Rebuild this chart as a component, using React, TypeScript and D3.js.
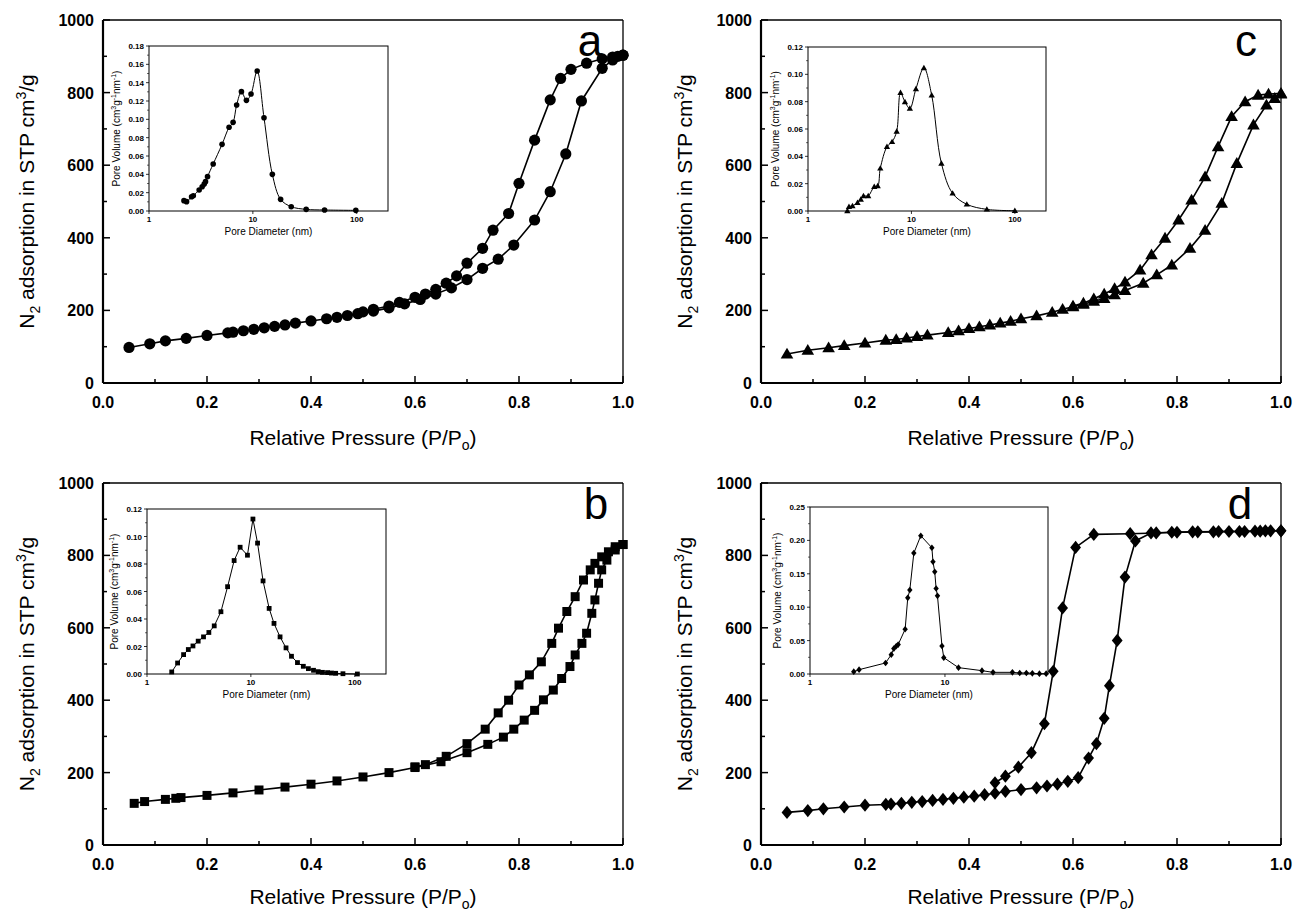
import React from 'react';
import * as d3 from 'd3';

type Pt = [number, number];

// N2 isotherms, [P/Po, volume cm3/g]
const adsA: Pt[] = [
  [0.05, 98], [0.09, 108], [0.12, 116], [0.16, 123], [0.2, 131], [0.24, 138], [0.25, 140],
  [0.27, 144], [0.29, 148], [0.31, 152], [0.33, 156], [0.35, 160], [0.37, 165], [0.4, 171],
  [0.43, 177], [0.45, 181], [0.47, 186], [0.49, 191], [0.52, 198], [0.55, 207], [0.58, 218],
  [0.61, 230], [0.64, 245], [0.67, 262], [0.7, 285], [0.73, 316], [0.76, 341], [0.79, 380],
  [0.83, 449], [0.86, 527], [0.89, 631], [0.92, 777], [0.96, 867], [0.98, 890], [0.99, 900], [1.0, 903],
];
const desA: Pt[] = [
  [1.0, 903], [0.98, 898], [0.96, 893], [0.93, 881], [0.9, 864], [0.88, 839], [0.86, 780],
  [0.83, 669], [0.8, 550], [0.78, 467], [0.75, 421], [0.73, 371], [0.7, 330], [0.68, 295],
  [0.66, 275], [0.64, 258], [0.62, 245], [0.6, 236], [0.57, 222], [0.55, 212], [0.52, 203], [0.5, 196],
];
const adsB: Pt[] = [
  [0.06, 115], [0.08, 120], [0.12, 126], [0.14, 129], [0.15, 131], [0.2, 137], [0.25, 144],
  [0.3, 152], [0.35, 160], [0.4, 168], [0.45, 177], [0.5, 188], [0.55, 200], [0.6, 214],
  [0.65, 230], [0.7, 255], [0.74, 278], [0.77, 298], [0.79, 320], [0.81, 345], [0.83, 372],
  [0.847, 401], [0.866, 428], [0.882, 460], [0.898, 493], [0.908, 525], [0.921, 557], [0.93, 585],
  [0.94, 640], [0.946, 677], [0.953, 723], [0.959, 760], [0.969, 787], [0.985, 815], [1.0, 830],
];
const desB: Pt[] = [
  [1.0, 830], [0.985, 824], [0.972, 810], [0.959, 796], [0.946, 778], [0.937, 760], [0.924, 732],
  [0.908, 686], [0.892, 645], [0.876, 599], [0.863, 557], [0.843, 506], [0.82, 470], [0.8, 442],
  [0.78, 400], [0.76, 365], [0.735, 320], [0.7, 280], [0.66, 245], [0.62, 222], [0.6, 216],
];
const adsC: Pt[] = [
  [0.05, 80], [0.09, 90], [0.13, 97], [0.16, 103], [0.2, 110], [0.24, 118], [0.26, 120],
  [0.28, 124], [0.3, 128], [0.32, 132], [0.36, 139], [0.38, 144], [0.4, 150], [0.42, 155],
  [0.44, 160], [0.46, 165], [0.48, 170], [0.5, 177], [0.53, 185], [0.56, 195], [0.58, 203],
  [0.6, 210], [0.62, 217], [0.64, 225], [0.66, 233], [0.68, 243], [0.7, 255], [0.735, 275],
  [0.761, 298], [0.79, 325], [0.825, 371], [0.854, 421], [0.886, 495], [0.915, 605],
  [0.947, 711], [0.972, 766], [0.988, 784], [1.0, 796],
];
const desC: Pt[] = [
  [1.0, 798], [0.976, 796], [0.956, 793], [0.931, 775], [0.905, 734], [0.879, 651], [0.854, 568],
  [0.828, 504], [0.803, 449], [0.777, 399], [0.751, 353], [0.729, 311], [0.7, 278], [0.68, 260],
  [0.66, 245], [0.64, 232], [0.62, 220], [0.6, 212],
];
const adsD: Pt[] = [
  [0.05, 90], [0.09, 95], [0.12, 100], [0.16, 105], [0.2, 110], [0.24, 112], [0.25, 113],
  [0.27, 115], [0.29, 118], [0.31, 120], [0.33, 123], [0.35, 126], [0.37, 129], [0.39, 132],
  [0.41, 135], [0.43, 139], [0.45, 143], [0.47, 148], [0.5, 153], [0.53, 158], [0.55, 163],
  [0.57, 168], [0.59, 176], [0.61, 186], [0.63, 240], [0.645, 280], [0.66, 350], [0.67, 440],
  [0.685, 565], [0.7, 740], [0.72, 840], [0.75, 862], [0.79, 864], [0.83, 865], [0.87, 865],
  [0.9, 866], [0.93, 866], [0.96, 867], [0.98, 868], [1.0, 868],
];
const desD: Pt[] = [
  [1.0, 868], [0.97, 868], [0.95, 867], [0.92, 866], [0.88, 866], [0.84, 865], [0.8, 864],
  [0.76, 862], [0.71, 860], [0.64, 858], [0.605, 822], [0.58, 655], [0.562, 480], [0.545, 335],
  [0.52, 255], [0.495, 215], [0.47, 190], [0.45, 172],
];

// pore size distributions, [diameter nm, volume]
const poreA: Pt[] = [
  [2.17, 0.0113], [2.3, 0.0102], [2.57, 0.0156], [2.67, 0.0167], [3.04, 0.0229], [3.25, 0.0265],
  [3.4, 0.0295], [3.5, 0.032], [3.66, 0.0375], [4.15, 0.0513], [5.05, 0.0727], [5.9, 0.0913],
  [6.45, 0.0967], [6.98, 0.1156], [7.76, 0.1302], [8.67, 0.1207], [9.6, 0.1276], [11.0, 0.1527],
  [12.8, 0.1018], [15.4, 0.04], [18.5, 0.0127], [23.4, 0.0047], [32.6, 0.0018], [49, 0.0011], [98, 0.0007],
];
const poreB: Pt[] = [
  [1.73, 0.0015], [1.97, 0.008], [2.25, 0.0141], [2.5, 0.0178], [2.77, 0.0204], [3.11, 0.0239],
  [3.5, 0.027], [3.94, 0.0302], [4.44, 0.035], [5.15, 0.0453], [5.97, 0.0635], [6.9, 0.0825],
  [7.88, 0.0922], [9.27, 0.0864], [10.47, 0.1127], [11.6, 0.0952], [13.1, 0.0677], [15.0, 0.0477],
  [16.7, 0.0368], [19.1, 0.027], [21.8, 0.019], [24.6, 0.0129], [28.1, 0.0083], [32.0, 0.0056],
  [35.8, 0.0039], [40.1, 0.0027], [44.5, 0.0017], [48.9, 0.0012], [54.7, 0.001], [59.6, 0.0007],
  [65.5, 0.0005], [77, 0.0002], [106, 0.0],
];
const poreC: Pt[] = [
  [2.4, 0.0], [2.49, 0.0032], [2.69, 0.0037], [3.01, 0.0061], [3.24, 0.0085], [3.44, 0.011],
  [3.82, 0.011], [4.37, 0.0178], [4.72, 0.0183], [5.0, 0.0312], [5.8, 0.047], [6.5, 0.0506],
  [7.2, 0.0582], [7.84, 0.0866], [8.66, 0.0798], [9.66, 0.075], [11.05, 0.0893], [13.2, 0.1047],
  [15.7, 0.0847], [19.5, 0.0348], [25, 0.0129], [34.3, 0.0049], [53.6, 0.0012], [100, 0.0002],
];
const poreD: Pt[] = [
  [2.11, 0.0035], [2.31, 0.0065], [3.63, 0.0165], [4.0, 0.029], [4.18, 0.038], [4.35, 0.0416],
  [4.5, 0.044], [5.07, 0.067], [5.3, 0.114], [5.49, 0.1258], [5.88, 0.181], [6.62, 0.207],
  [8.0, 0.189], [8.15, 0.168], [8.4, 0.153], [8.6, 0.128], [8.8, 0.117], [9.5, 0.042],
  [9.8, 0.0245], [12.6, 0.0095], [18.8, 0.005], [22.7, 0.0025], [31.6, 0.0025], [35.8, 0.0015],
  [40.1, 0.0015], [44.4, 0.001], [50.1, 0.0005], [56.2, 0.0005],
];

const poreTicksX = [1, 10, 100];
const FONT = "'Liberation Sans', Arial, sans-serif";

type Kind = 'circle' | 'square' | 'triangle' | 'diamond';

function marker(kind: Kind, s: number) {
  // s = half size
  if (kind === 'circle') return d3.symbol(d3.symbolCircle, Math.PI * s * s)() as string;
  if (kind === 'square') return `M${-s},${-s}H${s}V${s}H${-s}Z`;
  if (kind === 'triangle') return `M0,${-s * 1.05}L${s * 1.05},${s * 0.75}L${-s * 1.05},${s * 0.75}Z`;
  return `M0,${-s * 1.1}L${s * 0.9},0L0,${s * 1.1}L${-s * 0.9},0Z`;
}

type Box = { l: number; r: number; t: number; b: number };

function Inset({ box, data, kind, ms, xMax, yMax, step, curve }: {
  box: Box; data: Pt[]; kind: Kind; ms: number; xMax: number; yMax: number; step: number; curve: boolean;
}) {
  const x = d3.scaleLog().domain([1, xMax]).range([box.l, box.r]);
  const y = d3.scaleLinear().domain([0, yMax]).range([box.b, box.t]);
  const line = d3.line<Pt>().x(d => x(d[0])).y(d => y(d[1]))
    .curve(curve ? d3.curveCatmullRom.alpha(0.5) : d3.curveLinear);
  const yTicks = d3.range(0, yMax + step / 2, step);
  const yMinor = d3.range(step / 2, yMax, step);
  const my = (box.t + box.b) / 2;
  return (
    <g>
      <rect x={box.l} y={box.t} width={box.r - box.l} height={box.b - box.t} fill="white" stroke="black" strokeWidth={1} />
      {yTicks.map(v => (
        <g key={'y' + v}>
          <line x1={box.l - 3} x2={box.l} y1={y(v)} y2={y(v)} stroke="black" strokeWidth={0.8} />
          <text x={box.l - 5} y={y(v) + 3} textAnchor="end" fontSize={8} fontWeight="bold" fontFamily={FONT}>
            {v.toFixed(2)}
          </text>
        </g>
      ))}
      {yMinor.map(v => (
        <line key={'m' + v} x1={box.l - 2} x2={box.l} y1={y(v)} y2={y(v)} stroke="black" strokeWidth={0.6} />
      ))}
      {poreTicksX.filter(v => v <= xMax).map(v => (
        <g key={'x' + v}>
          <line x1={x(v)} x2={x(v)} y1={box.b} y2={box.b + 3} stroke="black" strokeWidth={0.8} />
          <text x={x(v)} y={box.b + 11} textAnchor="middle" fontSize={8} fontWeight="bold" fontFamily={FONT}>{v}</text>
        </g>
      ))}
      <text x={(box.l + box.r) / 2} y={box.b + 24} textAnchor="middle" fontSize={10} fontFamily={FONT}>Pore Diameter (nm)</text>
      <text transform={`translate(${box.l - 29},${my}) rotate(-90)`} textAnchor="middle" fontSize={10} fontFamily={FONT}>
        Pore Volume (cm<tspan dy={-4} fontSize={7}>3</tspan><tspan dy={4}>g</tspan>
        <tspan dy={-4} fontSize={7}>-1</tspan><tspan dy={4}>nm</tspan>
        <tspan dy={-4} fontSize={7}>-1</tspan><tspan dy={4}>)</tspan>
      </text>
      <path d={line(data) as string} fill="none" stroke="black" strokeWidth={1} />
      {data.map((d, i) => (
        <path key={i} d={marker(kind, ms)} transform={`translate(${x(d[0])},${y(d[1])})`} fill="black" />
      ))}
    </g>
  );
}

function Panel({ box, ads, des, kind, ms, letter, letterX, inset }: {
  box: Box; ads: Pt[]; des: Pt[]; kind: Kind; ms: number; letter: string; letterX: number; inset: React.ReactNode;
}) {
  const x = d3.scaleLinear().domain([0, 1]).range([box.l, box.r]);
  const y = d3.scaleLinear().domain([0, 1000]).range([box.b, box.t]);
  const line = d3.line<Pt>().x(d => x(d[0])).y(d => y(d[1]));
  const xt = x.ticks(10);
  const yt = y.ticks(10);
  const fmt = d3.format('.1f');
  return (
    <g>
      <line x1={box.l} x2={box.r} y1={box.t} y2={box.t} stroke="black" strokeWidth={1.3} />
      <line x1={box.r} x2={box.r} y1={box.t} y2={box.b} stroke="black" strokeWidth={1.3} />
      {xt.map((v, i) => (
        <g key={'x' + i}>
          <line x1={x(v)} x2={x(v)} y1={box.b} y2={box.b - (i % 2 === 0 ? 7 : 4)} stroke="black" strokeWidth={1.5} />
          {i % 2 === 0 && (
            <text x={x(v)} y={box.b + 25} textAnchor="middle" fontSize={16} fontWeight="bold" fontFamily={FONT}>{fmt(v)}</text>
          )}
        </g>
      ))}
      {yt.map((v, i) => (
        <g key={'y' + i}>
          <line x1={box.l} x2={box.l + (i % 2 === 0 ? 7 : 4)} y1={y(v)} y2={y(v)} stroke="black" strokeWidth={1.5} />
          {i % 2 === 0 && (
            <text x={box.l - 9} y={y(v) + 6} textAnchor="end" fontSize={16} fontWeight="bold" fontFamily={FONT}>{v}</text>
          )}
        </g>
      ))}
      <line x1={box.l} x2={box.r} y1={box.b} y2={box.b} stroke="black" strokeWidth={2.2} />
      <line x1={box.l} x2={box.l} y1={box.t} y2={box.b} stroke="black" strokeWidth={2.2} />
      <text x={(box.l + box.r) / 2} y={Math.min(box.b + 62, 904)} textAnchor="middle" fontSize={21} fontFamily={FONT}>
        Relative Pressure (P/P<tspan dy={5} fontSize={14}>o</tspan><tspan dy={-5}>)</tspan>
      </text>
      <text transform={`translate(${box.l - 69},${(box.t + box.b) / 2}) rotate(-90)`} textAnchor="middle" fontSize={21} fontFamily={FONT}>
        N<tspan dy={6} fontSize={14}>2</tspan><tspan dy={-6}> adsorption in STP cm</tspan>
        <tspan dy={-8} fontSize={14}>3</tspan><tspan dy={8}>/g</tspan>
      </text>
      {inset}
      <text x={letterX} y={box.t + 36} textAnchor="middle" fontSize={44} fontFamily={FONT}>{letter}</text>
      <path d={line(ads) as string} fill="none" stroke="black" strokeWidth={1.6} />
      <path d={line(des) as string} fill="none" stroke="black" strokeWidth={1.6} />
      {[...ads, ...des].map((d, i) => (
        <path key={i} d={marker(kind, ms)} transform={`translate(${x(d[0])},${y(d[1])})`} fill="black" />
      ))}
    </g>
  );
}

export default function App() {
  const A: Box = { l: 103, r: 623, t: 20, b: 383 };
  const B: Box = { l: 103, r: 623, t: 483, b: 845 };
  const C: Box = { l: 761, r: 1281, t: 20, b: 383 };
  const D: Box = { l: 761, r: 1281, t: 483, b: 845 };
  return (
    <svg width={1297} height={913} style={{ position: 'absolute', left: 0, top: 0, background: 'white' }}>
      <rect width={1297} height={913} fill="white" />
      <Panel box={A} ads={adsA} des={desA} kind="circle" ms={5.6} letter="a" letterX={590}
        inset={<Inset box={{ l: 149, r: 388, t: 46, b: 211 }} data={poreA} kind="circle" ms={2.8} xMax={200} yMax={0.18} step={0.02} curve />} />
      <Panel box={B} ads={adsB} des={desB} kind="square" ms={4.5} letter="b" letterX={596}
        inset={<Inset box={{ l: 147, r: 386, t: 509, b: 674 }} data={poreB} kind="square" ms={2.4} xMax={200} yMax={0.12} step={0.02} curve={false} />} />
      <Panel box={C} ads={adsC} des={desC} kind="triangle" ms={6} letter="c" letterX={1246}
        inset={<Inset box={{ l: 808, r: 1046, t: 47, b: 211 }} data={poreC} kind="triangle" ms={3} xMax={200} yMax={0.12} step={0.02} curve />} />
      <Panel box={D} ads={adsD} des={desD} kind="diamond" ms={6} letter="d" letterX={1240}
        inset={<Inset box={{ l: 810, r: 1048, t: 507, b: 674 }} data={poreD} kind="diamond" ms={3} xMax={58} yMax={0.25} step={0.05} curve={false} />} />
    </svg>
  );
}
